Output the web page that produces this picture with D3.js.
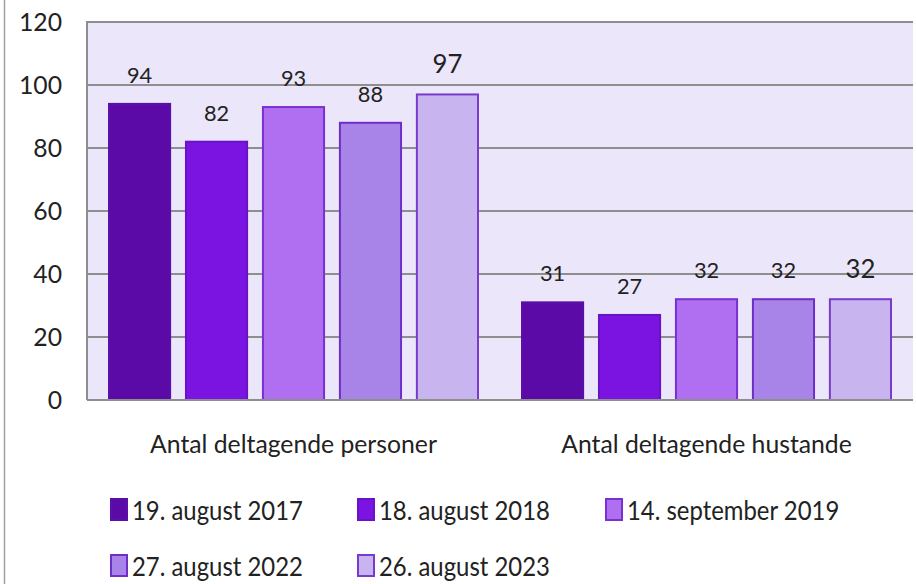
<!DOCTYPE html>
<html><head><meta charset="utf-8">
<script src="https://cdn.jsdelivr.net/npm/d3@7"></script>
<style>html,body{margin:0;padding:0;background:#fff;}svg{display:block;}</style>
</head><body>
<svg id="c" width="916" height="584"></svg>
<script>
const categories = ["Antal deltagende personer", "Antal deltagende hustande"];
const seriesNames = ["19. august 2017", "18. august 2018", "14. september 2019", "27. august 2022", "26. august 2023"];
const values = [
  [94, 31],
  [82, 27],
  [93, 32],
  [88, 32],
  [97, 32]
];
const yTicks = [0, 20, 40, 60, 80, 100, 120];
const fills = ["#5b0aa8", "#7b14e0", "#b06ef0", "#a884e8", "#c8b4ee"];
const strokes = ["#5a10a8", "#6a12c8", "#7a30d0", "#6f2ec8", "#7a3bcc"];

const svg = d3.select("#c");
const FONT = "Lato, 'Open Sans', sans-serif";
const M = {left: 87, right: 913, top: 22, bottom: 400};

svg.append("line").attr("x1", 4.5).attr("x2", 4.5).attr("y1", 0).attr("y2", 584)
  .attr("stroke", "#a0a0a0").attr("stroke-width", 1.5);

const y = d3.scaleLinear().domain([0, 120]).range([M.bottom, M.top]);
const x0 = d3.scaleBand().domain(categories).range([M.left, M.right]).padding(0);
const x1 = d3.scaleBand().domain(d3.range(seriesNames.length))
  .range([21, x0.bandwidth() - 21]).paddingInner(0.18).paddingOuter(0);

svg.append("rect").attr("x", M.left).attr("y", M.top)
  .attr("width", M.right - M.left).attr("height", M.bottom - M.top).attr("fill", "#ebe6fa");

svg.append("g").selectAll("line").data(yTicks.filter(d => d > 0)).join("line")
  .attr("x1", M.left).attr("x2", M.right).attr("y1", d => y(d)).attr("y2", d => y(d))
  .attr("stroke", "#8e8e8e").attr("stroke-width", 2);

function measure(s, size) {
  const p = svg.append("text").attr("font-family", FONT).attr("font-size", size).text(s);
  const w = p.node().getComputedTextLength();
  p.remove();
  return w;
}
const k = 287 / measure(categories[0], 25);
const kLeg = 171 / measure(seriesNames[0], 26);

function txt(g, xx, yy, s, anchor, size, color, kk) {
  return g.append("text").attr("transform", `translate(${xx},${yy}) scale(${kk || k},1)`)
    .attr("text-anchor", anchor).attr("font-family", FONT).attr("font-size", size)
    .attr("fill", color || "#222").text(s);
}

const gBars = svg.append("g");
seriesNames.forEach((name, si) => {
  categories.forEach((cat, ci) => {
    const v = values[si][ci];
    const bx = x0(cat) + x1(si);
    gBars.append("rect").attr("x", bx + 1).attr("y", y(v))
      .attr("width", x1.bandwidth() - 2).attr("height", y(0) - y(v))
      .attr("fill", fills[si]).attr("stroke", strokes[si]).attr("stroke-width", 2);
    txt(gBars, bx + x1.bandwidth() / 2, y(v) - 21, String(v), "middle", si === 4 ? 26 : 22, "#222");
  });
});

svg.append("line").attr("x1", M.left).attr("x2", M.left).attr("y1", M.top).attr("y2", M.bottom)
  .attr("stroke", "#8e8e8e").attr("stroke-width", 2);
svg.append("line").attr("x1", M.left).attr("x2", M.right).attr("y1", M.bottom).attr("y2", M.bottom)
  .attr("stroke", "#8e8e8e").attr("stroke-width", 2);
svg.append("line").attr("x1", M.left - 1).attr("x2", M.right).attr("y1", M.top).attr("y2", M.top)
  .attr("stroke", "#8e8e8e").attr("stroke-width", 2);

const gy = svg.append("g");
yTicks.forEach(t => txt(gy, 62, y(t) + 9, String(t), "end", 25, "#222"));

const gx = svg.append("g");
categories.forEach(c => txt(gx, x0(c) + x0.bandwidth() / 2, 453, c, "middle", 25, "#222"));

const legPos = [[111, 499], [358, 499], [606, 499], [111, 555], [358, 555]];
const gl = svg.append("g");
seriesNames.forEach((n, i) => {
  const [lx, ly] = legPos[i];
  gl.append("rect").attr("x", lx).attr("y", ly).attr("width", 16).attr("height", 21)
    .attr("fill", fills[i]).attr("stroke", strokes[i]).attr("stroke-width", 2);
  txt(gl, lx + 21, ly + 21, n, "start", 26, "#222", kLeg);
});
</script>
</body></html>
